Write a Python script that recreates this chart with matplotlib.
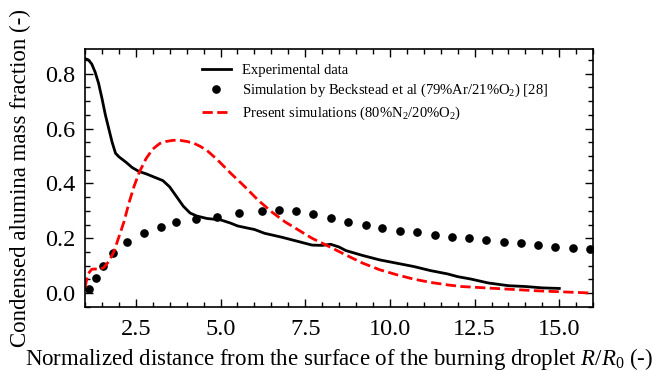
import matplotlib
matplotlib.use("Agg")
import matplotlib.pyplot as plt
from matplotlib.ticker import MultipleLocator

# ── data ───────────────────────────────────────────────────────
exp_x = [1.0, 1.1, 1.2, 1.3, 1.4, 1.5, 1.6, 1.7, 1.8, 1.9, 2.0, 2.2, 2.4,
         2.6, 2.8, 3.0, 3.3, 3.5, 3.7, 3.9, 4.1, 4.3, 4.6, 5.0, 5.3, 5.5,
         5.8, 6.0, 6.3, 6.8, 7.3, 7.7, 8.0, 8.25, 8.5, 8.7, 9.2, 9.7, 10.2,
         10.7, 11.2, 11.7, 12.0, 12.4, 12.9, 13.5, 14.0, 14.5, 15.0]
exp_y = [0.855, 0.850, 0.835, 0.805, 0.765, 0.71, 0.65, 0.60, 0.55, 0.51,
         0.497, 0.478, 0.457, 0.443, 0.435, 0.425, 0.41, 0.387, 0.352, 0.317,
         0.292, 0.281, 0.272, 0.267, 0.255, 0.245, 0.237, 0.232, 0.218,
         0.204, 0.188, 0.175, 0.174, 0.178, 0.168, 0.155, 0.137, 0.121,
         0.109, 0.097, 0.082, 0.070, 0.060, 0.051, 0.037, 0.027, 0.024,
         0.019, 0.017]

beck_x = [1.13, 1.32, 1.52, 1.83, 2.24, 2.74, 3.23, 3.70, 4.28, 4.91, 5.54,
          6.21, 6.72, 7.22, 7.74, 8.26, 8.77, 9.28, 9.78, 10.29, 10.80,
          11.32, 11.83, 12.33, 12.85, 13.36, 13.87, 14.38, 14.88, 15.39,
          15.90]
beck_y = [0.015, 0.055, 0.100, 0.147, 0.187, 0.219, 0.241, 0.259, 0.269,
          0.279, 0.292, 0.300, 0.304, 0.300, 0.287, 0.273, 0.259, 0.248,
          0.236, 0.228, 0.222, 0.211, 0.206, 0.200, 0.193, 0.188, 0.183,
          0.175, 0.168, 0.165, 0.160]

sim_x = [1.0, 1.05, 1.1, 1.2, 1.3, 1.4, 1.55, 1.7, 1.85, 2.0, 2.15, 2.3,
         2.45, 2.6, 2.8, 3.0, 3.2, 3.4, 3.6, 3.8, 4.0, 4.2, 4.4, 4.6, 4.9,
         5.3, 5.7, 6.1, 6.5, 6.9, 7.3, 7.7, 8.2, 8.7, 9.2, 9.7, 10.2, 10.7,
         11.2, 11.7, 12.1, 12.4, 13.4, 14.4, 15.4, 16.0]
sim_y = [0.02, 0.05, 0.072, 0.087, 0.088, 0.085, 0.093, 0.115, 0.15, 0.205,
         0.26, 0.33, 0.39, 0.44, 0.49, 0.525, 0.545, 0.553, 0.557, 0.557,
         0.553, 0.547, 0.535, 0.52, 0.487, 0.437, 0.39, 0.34, 0.297, 0.26,
         0.23, 0.20, 0.17, 0.139, 0.109, 0.085, 0.067, 0.051, 0.039, 0.030,
         0.024, 0.022, 0.015, 0.008, 0.003, 0.0]

labels = ["Experimental data",
          r"Simulation by Beckstead et al (79%Ar/21%O$_2$) [28]",
          r"Present simulations (80%N$_2$/20%O$_2$)"]

# ── style ──────────────────────────────────────────────────────
plt.rcParams["font.family"] = ["Liberation Serif", "DejaVu Serif"]
plt.rcParams["mathtext.fontset"] = "custom"
plt.rcParams["mathtext.rm"] = "Liberation Serif"
plt.rcParams["mathtext.it"] = "Liberation Serif:italic"

fig = plt.figure(figsize=(6.54, 3.71), dpi=100)
ax = fig.add_axes([0.130, 0.173, 0.777, 0.695])

ax.plot(exp_x, exp_y, color="black", lw=2.0, label=labels[0])
ax.plot(beck_x, beck_y, "o", color="black", ms=5.2, label=labels[1])
ax.plot(sim_x, sim_y, "--", color="red", lw=2.0, label=labels[2])

ax.set_xlim(1, 16)
ax.set_ylim(-0.05, 0.89)
ax.xaxis.set_major_locator(MultipleLocator(2.5))
ax.xaxis.set_minor_locator(MultipleLocator(0.5))
ax.yaxis.set_major_locator(MultipleLocator(0.2))
ax.yaxis.set_minor_locator(MultipleLocator(0.05))
ax.tick_params(which="both", direction="in", top=True, right=True,
               labelsize=17.5, width=1.0)
ax.tick_params(which="major", length=6)
ax.tick_params(which="minor", length=3.5)
ax.tick_params(axis="x", pad=9)
ax.tick_params(axis="y", pad=7)
for s in ax.spines.values():
    s.set_linewidth(1.2)

ax.set_xlabel(r"Normalized distance from the surface of the burning droplet $R/R_0$ (-)",
              fontsize=16.5, labelpad=4)
ax.set_ylabel("Condensed alumina mass fraction (-)", fontsize=16.5)
ax.yaxis.set_label_coords(-0.106, 0.5)

ax.legend(loc="upper left", bbox_to_anchor=(0.218, 0.965), frameon=False,
          fontsize=10.5, numpoints=1, handlelength=2.0, handletextpad=0.8,
          labelspacing=0.35, borderaxespad=0)

fig.savefig("out.png", dpi=100, facecolor="white")
